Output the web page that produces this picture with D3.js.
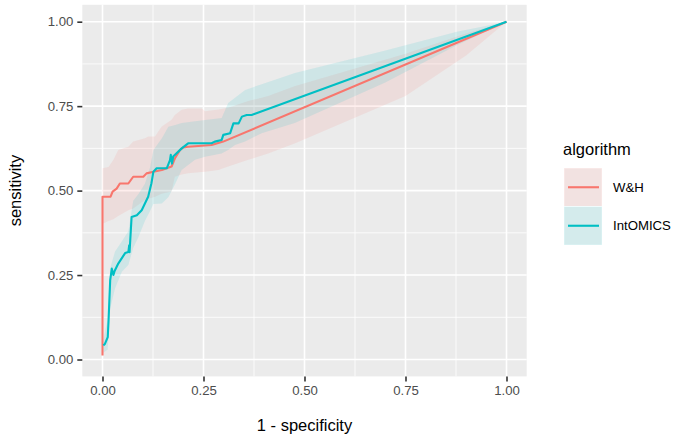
<!DOCTYPE html>
<html><head><meta charset="utf-8">
<script src="https://cdn.jsdelivr.net/npm/d3@7"></script>
<style>body{margin:0;background:#fff}svg{display:block}text{font-family:"Liberation Sans",Arial,Helvetica,sans-serif}</style>
</head><body>
<script>
// ---- data ----
const seriesNames = ["W&H", "IntOMICS"];
const seriesColors = ["#F8766D", "#00BFC4"];
const xTicks = [0, 0.25, 0.5, 0.75, 1];
const yTicks = [0, 0.25, 0.5, 0.75, 1];
const tickLabels = ["0.00", "0.25", "0.50", "0.75", "1.00"];

const whFpr = [0, 0, 0.02, 0.025, 0.035, 0.043, 0.064, 0.076, 0.101, 0.109, 0.126, 0.147, 0.171, 0.179, 0.192, 0.200, 0.212, 0.270, 0.299, 1];
const whTpr = [0.012, 0.482, 0.482, 0.497, 0.506, 0.521, 0.521, 0.541, 0.541, 0.551, 0.556, 0.561, 0.571, 0.595, 0.620, 0.628, 0.630, 0.635, 0.645, 1];

const intFpr = [0.002, 0.006, 0.013, 0.015, 0.019, 0.023, 0.027, 0.030, 0.039, 0.056, 0.064, 0.066, 0.067, 0.072, 0.085, 0.097, 0.105, 0.113, 0.121, 0.126, 0.134, 0.159, 0.167, 0.169, 0.172, 0.175, 0.196, 0.212, 0.270, 0.278, 0.295, 0.299, 0.316, 0.324, 0.337, 0.345, 0.357, 0.369, 1];
const intTpr = [0.042, 0.046, 0.066, 0.116, 0.234, 0.269, 0.250, 0.262, 0.284, 0.315, 0.318, 0.338, 0.318, 0.422, 0.427, 0.442, 0.462, 0.482, 0.521, 0.556, 0.566, 0.566, 0.590, 0.606, 0.580, 0.601, 0.625, 0.640, 0.640, 0.645, 0.650, 0.665, 0.670, 0.699, 0.699, 0.719, 0.724, 0.724, 1];

const whBandFpr   = [0, 0, 0.015, 0.027, 0.039, 0.064, 0.076, 0.105, 0.113, 0.130, 0.146, 0.171, 0.179, 0.196, 0.212, 0.246, 0.254, 0.287, 0.311, 0.361, 0.41, 0.477, 0.75, 0.9, 1];
const whBandUpper = [0.02, 0.566, 0.57, 0.591, 0.62, 0.63, 0.645, 0.655, 0.66, 0.66, 0.689, 0.71, 0.724, 0.739, 0.743, 0.743, 0.735, 0.74, 0.745, 0.765, 0.78, 0.81, 0.905, 0.965, 1];
const whBandLower = [0.0, 0.402, 0.41, 0.415, 0.425, 0.442, 0.447, 0.472, 0.476, 0.482, 0.491, 0.497, 0.541, 0.548, 0.551, 0.555, 0.556, 0.561, 0.571, 0.591, 0.61, 0.64, 0.78, 0.90, 1];

const intBandFpr   = [0.002, 0.013, 0.019, 0.031, 0.048, 0.064, 0.076, 0.089, 0.105, 0.118, 0.126, 0.147, 0.163, 0.18, 0.196, 0.229, 0.254, 0.295, 0.311, 0.328, 0.353, 0.394, 0.476, 0.7, 0.877, 1];
const intBandUpper = [0.06, 0.12, 0.27, 0.32, 0.35, 0.38, 0.47, 0.49, 0.52, 0.57, 0.62, 0.655, 0.689, 0.694, 0.70, 0.705, 0.709, 0.715, 0.759, 0.775, 0.798, 0.815, 0.848, 0.915, 0.97, 1];
const intBandLower = [0.02, 0.03, 0.15, 0.21, 0.26, 0.28, 0.33, 0.363, 0.41, 0.44, 0.46, 0.462, 0.48, 0.52, 0.561, 0.591, 0.60, 0.61, 0.62, 0.635, 0.645, 0.67, 0.70, 0.82, 0.93, 1];

// ---- layout ----
const W = 685, H = 446;
const svg = d3.select("body").append("svg").attr("width", W).attr("height", H);
const px0 = 82.3, px1 = 526.7, py0 = 4.8, py1 = 376.4;
const x = d3.scaleLinear().domain([-0.05, 1.05]).range([px0, px1]);
const y = d3.scaleLinear().domain([-0.05, 1.05]).range([py1, py0]);

svg.append("rect").attr("x", px0).attr("y", py0).attr("width", px1 - px0).attr("height", py1 - py0).attr("fill", "#EBEBEB");

const minor = [0.125, 0.375, 0.625, 0.875];
const g = svg.append("g");
minor.forEach(v => {
  g.append("line").attr("x1", x(v)).attr("x2", x(v)).attr("y1", py0).attr("y2", py1).attr("stroke", "#fff").attr("stroke-width", 0.8);
  g.append("line").attr("y1", y(v)).attr("y2", y(v)).attr("x1", px0).attr("x2", px1).attr("stroke", "#fff").attr("stroke-width", 0.8);
});
xTicks.forEach(v => {
  g.append("line").attr("x1", x(v)).attr("x2", x(v)).attr("y1", py0).attr("y2", py1).attr("stroke", "#fff").attr("stroke-width", 1.6);
});
yTicks.forEach(v => {
  g.append("line").attr("y1", y(v)).attr("y2", y(v)).attr("x1", px0).attr("x2", px1).attr("stroke", "#fff").attr("stroke-width", 1.6);
});

// ribbons
const bands = [
  {fpr: whBandFpr, lo: whBandLower, hi: whBandUpper},
  {fpr: intBandFpr, lo: intBandLower, hi: intBandUpper}
];
const area = d3.area().x(d => x(d[0])).y0(d => y(d[1])).y1(d => y(d[2]));
bands.forEach((b, i) => {
  const pts = b.fpr.map((f, j) => [f, b.lo[j], b.hi[j]]);
  svg.append("path").attr("d", area(pts)).attr("fill", seriesColors[i]).attr("fill-opacity", 0.12);
});

// lines
const lineGen = d3.line().x(d => x(d[0])).y(d => y(d[1]));
const lines = [
  whFpr.map((f, j) => [f, whTpr[j]]),
  intFpr.map((f, j) => [f, intTpr[j]])
];
lines.forEach((pts, i) => {
  svg.append("path").attr("d", lineGen(pts)).attr("fill", "none").attr("stroke", seriesColors[i])
    .attr("stroke-width", 2.1).attr("stroke-linejoin", "round");
});

// axes
const xAxis = d3.axisBottom(x).tickValues(xTicks).tickFormat((d, i) => tickLabels[i]).tickSize(5).tickPadding(4);
const xg = svg.append("g").attr("transform", `translate(0,${py1})`).call(xAxis);
xg.select(".domain").remove();
xg.selectAll(".tick line").attr("stroke", "#333").attr("stroke-width", 1.6);
xg.selectAll(".tick text").attr("fill", "#4D4D4D").attr("font-size", 13.2).attr("font-family", "Liberation Sans, Arial, sans-serif");

const yAxis = d3.axisLeft(y).tickValues(yTicks).tickFormat((d, i) => tickLabels[i]).tickSize(5).tickPadding(4);
const yg = svg.append("g").attr("transform", `translate(${px0},0)`).call(yAxis);
yg.select(".domain").remove();
yg.selectAll(".tick line").attr("stroke", "#333").attr("stroke-width", 1.6);
yg.selectAll(".tick text").attr("fill", "#4D4D4D").attr("font-size", 13.2).attr("font-family", "Liberation Sans, Arial, sans-serif");

svg.append("text").attr("x", (px0 + px1) / 2).attr("y", 431).attr("text-anchor", "middle")
  .attr("font-size", 16.5).attr("fill", "#000").text("1 - specificity");
svg.append("text").attr("transform", `translate(21,${(py0 + py1) / 2}) rotate(-90)`).attr("text-anchor", "middle")
  .attr("font-size", 16.5).attr("fill", "#000").text("sensitivity");

// legend
const lg = svg.append("g");
lg.append("text").attr("x", 563).attr("y", 155).attr("font-size", 16.5).attr("fill", "#000").text("algorithm");
seriesNames.forEach((name, i) => {
  const ky = 168 + i * 38.5;
  lg.append("rect").attr("x", 564).attr("y", ky).attr("width", 38).attr("height", 38.5).attr("fill", "#F2F2F2").attr("stroke", "#fff").attr("stroke-width", 1);
  lg.append("rect").attr("x", 564).attr("y", ky).attr("width", 38).attr("height", 38.5).attr("fill", seriesColors[i]).attr("fill-opacity", 0.12);
  lg.append("line").attr("x1", 568).attr("x2", 599).attr("y1", ky + 19.25).attr("y2", ky + 19.25).attr("stroke", seriesColors[i]).attr("stroke-width", 2.1);
  lg.append("text").attr("x", 613).attr("y", ky + 19.25 + 4.7).attr("font-size", 13.2).attr("fill", "#000").text(name);
});
</script>
</body></html>
